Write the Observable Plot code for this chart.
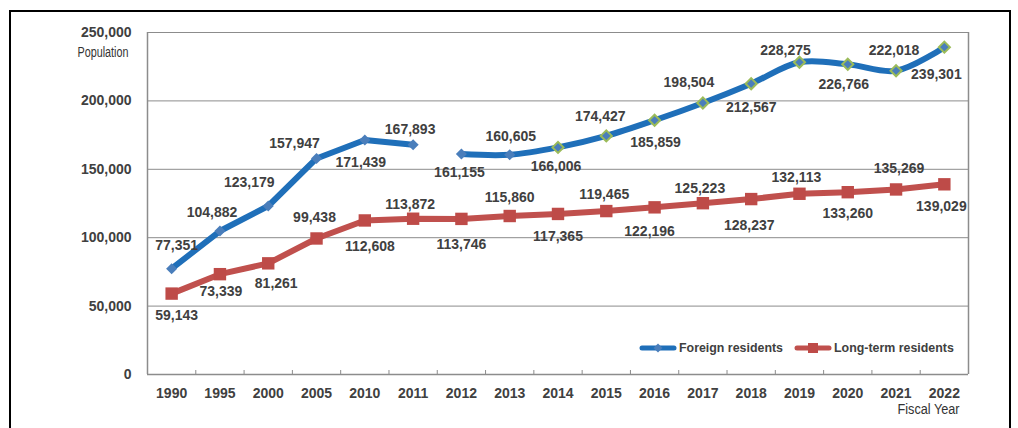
<!DOCTYPE html>
<html><head><meta charset="utf-8">
<script src="https://cdn.jsdelivr.net/npm/d3@7"></script>
<script src="https://cdn.jsdelivr.net/npm/@observablehq/plot@0.6"></script>
<style>
html,body{margin:0;padding:0;background:#fff;overflow:hidden;}
#chart{position:relative;width:1018px;height:428px;}
</style></head><body><div id="chart"></div>
<script>
// ---- data ----
const years = ["1990","1995","2000","2005","2010","2011","2012","2013","2014","2015","2016","2017","2018","2019","2020","2021","2022"];
const foreignResidents = [77351,104882,123179,157947,171439,167893,161155,160605,166006,174427,185859,198504,212567,228275,226766,222018,239301];
const longTermResidents = [59143,73339,81261,99438,112608,113872,113746,115860,117365,119465,122196,125223,128237,132113,133260,135269,139029];
const yTicks = [0,50000,100000,150000,200000,250000];
const seriesNames = ["Foreign residents","Long-term residents"];
const yAxisTitle = "Population";
const xAxisTitle = "Fiscal Year";
const foreignGapAfter = "2011";      // the line is broken between 2011 and 2012
const foreignOutlinedFrom = "2014";  // markers from here on have a green outline

// ---- label placement (pixel offsets from each point) ----
const foreignLabelOffsets = [[5,-23],[-8,-19],[-19,-23],[-22,-15],[-4,23],[-3,-15],[-2,18],[1,-18],[-2,19],[-6,-19],[1,22],[-14,-20],[0,24],[-14,-12],[-4,20],[-2,-20],[-8,27]];
const longTermLabelOffsets = [[5,22],[1,17],[8,20],[-2,-21],[5,26],[-3,-14],[0,26],[0,-18],[0,23],[-2,-17],[-5,24],[-3,-15],[-2,26],[-3,-16],[0,21],[3,-21],[-3,22]];

// ---- styles ----
const blueLine = "#1f6fb9", blueMarker = "#4a7ebb", greenOutline = "#9bbb59";
const redLine = "#c0504d", redMarker = "#be4b48";
const gridColor = "#8c8c8c", textColor = "#404040";
const fmt = d3.format(",");
const yMax = 250000, plotHeightPx = 342, tickLenPx = 4;

const gapIndex = years.indexOf(foreignGapAfter);
const outlinedIndex = years.indexOf(foreignOutlinedFrom);
const foreign = years.map((year, i) => ({i, year, value: foreignResidents[i], segment: i <= gapIndex ? 0 : 1, outlined: i >= outlinedIndex, off: foreignLabelOffsets[i]}));
const longTerm = years.map((year, i) => ({i, year, value: longTermResidents[i], off: longTermLabelOffsets[i]}));

const labelMarks = [...foreign, ...longTerm].map(d => Plot.text([d], {
  x: "i", y: "value", text: r => fmt(r.value), dx: d.off[0], dy: d.off[1],
  fontSize: 14, fontWeight: "bold", fill: textColor
}));

const n = years.length;
const boundaries = d3.range(n + 1).map(k => k - 0.5);
const plot = Plot.plot({
  width: 1018, height: 428,
  marginLeft: 147, marginRight: 50, marginTop: 32, marginBottom: 54,
  style: {fontFamily: "'Liberation Sans', Arial, sans-serif", background: "white"},
  x: {domain: [-0.5, n - 0.5]},
  y: {domain: [0, yMax]},
  marks: [
    Plot.gridY(yTicks.slice(1), {stroke: gridColor, strokeOpacity: 1, strokeWidth: 1}),
    Plot.ruleX([-0.5, n - 0.5], {stroke: gridColor, strokeWidth: 1.5}),
    Plot.ruleX(boundaries, {y1: 0, y2: yMax * tickLenPx / plotHeightPx, stroke: gridColor, strokeWidth: 1}),
    Plot.ruleY([0], {stroke: gridColor, strokeWidth: 1.5}),
    Plot.axisY({ticks: yTicks, tickSize: 0, tickPadding: 16, tickFormat: fmt, fontSize: 14, fontWeight: "bold", fill: textColor, label: null}),
    Plot.axisX({ticks: d3.range(n), tickSize: 0, tickPadding: 14, tickFormat: k => years[k], fontSize: 14, fontWeight: "bold", fill: textColor, label: null}),
    Plot.line(longTerm, {x: "i", y: "value", stroke: redLine, strokeWidth: 6}),
    Plot.line(foreign.filter(d => d.segment === 0), {x: "i", y: "value", stroke: blueLine, strokeWidth: 6}),
    Plot.line(foreign.filter(d => d.segment === 1), {x: "i", y: "value", stroke: blueLine, strokeWidth: 6, curve: "catmull-rom"}),
    Plot.dot(longTerm, {x: "i", y: "value", symbol: "square", r: 7, fill: redMarker}),
    Plot.dot(foreign.filter(d => !d.outlined), {x: "i", y: "value", symbol: "diamond2", r: 5, fill: blueMarker}),
    Plot.dot(foreign.filter(d => d.outlined), {x: "i", y: "value", symbol: "diamond2", r: 5, fill: blueMarker, stroke: greenOutline, strokeWidth: 2}),
    ...labelMarks,
    Plot.text([yAxisTitle], {frameAnchor: "top-left", dx: -19, dy: 20, textAnchor: "end", lineAnchor: "middle", fontSize: 14, fill: "#333"}),
    Plot.text([xAxisTitle], {frameAnchor: "bottom-right", dx: -9, dy: 35, textAnchor: "end", lineAnchor: "middle", fontSize: 14, fill: "#333"})
  ]
});

// condense the two axis titles (narrow font in the original)
const svg = d3.select(plot);
svg.selectAll("text").filter(function () { return this.textContent === yAxisTitle; })
  .attr("textLength", 51).attr("lengthAdjust", "spacingAndGlyphs");
svg.selectAll("text").filter(function () { return this.textContent === xAxisTitle; })
  .attr("textLength", 62).attr("lengthAdjust", "spacingAndGlyphs");

// ---- legend + outer border ----
const legend = [
  {name: seriesNames[0], x0: 640, x1: 676, tx: 679, color: blueLine, symbol: d3.symbolDiamond2, size: 50, mfill: blueMarker},
  {name: seriesNames[1], x0: 795, x1: 831, tx: 834, color: redLine, symbol: d3.symbolSquare, size: 100, mfill: redMarker}
];
const ly = 348;
const lg = svg.append("g").attr("text-anchor", "start");
legend.forEach(l => {
  lg.append("line").attr("x1", l.x0 + 2).attr("x2", l.x1 - 2).attr("y1", ly).attr("y2", ly)
    .attr("stroke", l.color).attr("stroke-width", 5).attr("stroke-linecap", "round");
  lg.append("path").attr("d", d3.symbol(l.symbol, l.size)()).attr("transform", `translate(${(l.x0 + l.x1) / 2},${ly})`).attr("fill", l.mfill);
  lg.append("text").attr("x", l.tx).attr("y", ly).attr("dy", "0.35em").attr("font-size", 12.4).attr("font-weight", "bold")
    .attr("text-anchor", "start").attr("fill", textColor).text(l.name);
});
svg.append("rect").attr("x", 10).attr("y", 11).attr("width", 1000).attr("height", 500)
  .attr("fill", "none").attr("stroke", "#000").attr("stroke-width", 2);

document.getElementById("chart").appendChild(plot);
</script></body></html>
